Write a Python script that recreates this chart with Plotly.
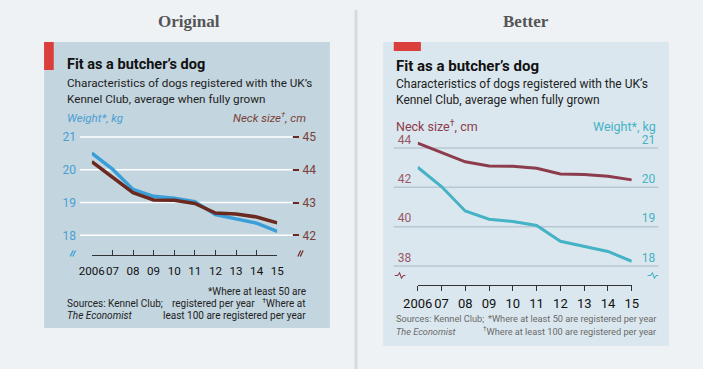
import plotly.graph_objects as go

# ---------------- data ----------------
years = [2006, 2007, 2008, 2009, 2010, 2011, 2012, 2013, 2014, 2015]
year_labels = ["2006", "07", "08", "09", "10", "11", "12", "13", "14", "15"]
weight_kg = [20.51, 20.02, 19.40, 19.19, 19.13, 19.03, 18.63, 18.50, 18.37, 18.12]
neck_cm = [44.25, 43.78, 43.30, 43.08, 43.07, 42.97, 42.68, 42.65, 42.56, 42.38]

orig_weight_ticks = [18, 19, 20, 21]
orig_neck_ticks = [42, 43, 44, 45]
better_neck_ticks = [38, 40, 42, 44]
better_weight_ticks = [18, 19, 20, 21]

W, H = 703, 369
FONT = "Roboto, sans-serif"
SERIF = "Liberation Serif, DejaVu Serif, serif"


def px(x):
    return x / W


def py(y):
    return 1 - y / H


def path(points):
    s = ""
    for i, (x, y) in enumerate(points):
        s += ("M" if i == 0 else "L") + f"{px(x):.5f},{py(y):.5f} "
    return s.strip()


PAGE_BG = "#eef2f5"
ORIG_BG = "#c3d5df"
BETTER_BG = "#dbe7ee"
RED = "#da3f3c"
O_BLUE = "#3a9fd8"
O_BROWN = "#6b2a20"
B_MAROON = "#8c3c4c"
B_TEAL = "#45b2c5"

fig = go.Figure()

o_px_per = 32.77
o_y18 = 235.3
o_top, o_bot = 122, 255.3


def o_w(pxv):
    return 18 + (o_y18 - pxv) / o_px_per


o_wrange = [o_w(o_bot), o_w(o_top)]
o_nrange = [v + 24 for v in o_wrange]

fig.add_trace(go.Scatter(x=years, y=weight_kg, mode="lines", xaxis="x", yaxis="y",
                         line=dict(color=O_BLUE, width=3.5), hoverinfo="skip", showlegend=False))
fig.add_trace(go.Scatter(x=years, y=neck_cm, mode="lines", xaxis="x", yaxis="y2",
                         line=dict(color=O_BROWN, width=3.5), hoverinfo="skip", showlegend=False))

b_px_per = 39.33
b_y18 = 266.0
b_top, b_bot = 122, 284.7


def b_w(pxv):
    return 18 + (b_y18 - pxv) / b_px_per


b_wrange = [b_w(b_bot), b_w(b_top)]
b_nrange = [38 + 2 * (v - 18) for v in b_wrange]

fig.add_trace(go.Scatter(x=years, y=neck_cm, mode="lines", xaxis="x2", yaxis="y3",
                         line=dict(color=B_MAROON, width=3), hoverinfo="skip", showlegend=False))
fig.add_trace(go.Scatter(x=years, y=weight_kg, mode="lines", xaxis="x2", yaxis="y4",
                         line=dict(color=B_TEAL, width=3), hoverinfo="skip", showlegend=False))

fig.update_layout(
    width=W, height=H,
    margin=dict(l=0, r=0, t=0, b=0),
    paper_bgcolor=PAGE_BG, plot_bgcolor="rgba(0,0,0,0)",
    font=dict(family=FONT, color="#222"),
    showlegend=False,
    xaxis=dict(domain=[px(79.3), px(270.7)], range=[2006, 2015], anchor="y",
               showgrid=False, zeroline=False, showline=True, linecolor="#333", linewidth=1,
               ticks="inside", ticklen=5, tickcolor="#333", tickwidth=1, tickangle=0,
               tickvals=years, ticktext=year_labels, ticklabelstandoff=5,
               tickfont=dict(size=11.6, color="#111", family=FONT)),
    yaxis=dict(domain=[py(o_bot), py(o_top)], range=o_wrange, anchor="free", position=px(67),
               side="left", showgrid=False, zeroline=False, showline=False, ticks="",
               tickvals=orig_weight_ticks, ticklabelstandoff=4,
               tickfont=dict(size=12, color="#4a9fd2", family=FONT)),
    yaxis2=dict(range=o_nrange, overlaying="y", anchor="free", position=px(286), side="right",
                showgrid=False, zeroline=False, showline=False, ticks="outside", ticklen=6,
                tickcolor=O_BROWN, tickwidth=1.5, tickvals=orig_neck_ticks, ticklabelstandoff=1,
                tickfont=dict(size=12, color="#7a3f36", family=FONT)),
    xaxis2=dict(domain=[px(415.7), px(636.7)], range=[2006, 2015], anchor="y3",
                showgrid=False, zeroline=False, showline=True, linecolor="#333", linewidth=1,
                ticks="outside", ticklen=5, tickcolor="#333", tickwidth=1, tickangle=0,
                tickvals=years, ticktext=year_labels, ticklabelstandoff=2,
                tickfont=dict(size=13, color="#111", family=FONT)),
    yaxis3=dict(domain=[py(b_bot), py(b_top)], range=b_nrange, anchor="free", position=px(391),
                side="left", showgrid=False, zeroline=False, showline=False, ticks="",
                tickvals=better_neck_ticks, ticklabelposition="inside top",
                tickfont=dict(size=12, color="#9a5866", family=FONT)),
    yaxis4=dict(range=b_wrange, overlaying="y3", anchor="free", position=px(664), side="right",
                showgrid=False, zeroline=False, showline=False, ticks="",
                tickvals=better_weight_ticks, ticklabelposition="inside top",
                tickfont=dict(size=12, color=B_TEAL, family=FONT)),
)

shapes = []
shapes.append(dict(type="rect", xref="paper", yref="paper", x0=px(30), x1=px(325), y0=py(328), y1=py(42),
                   fillcolor=ORIG_BG, line=dict(width=0), layer="below"))
shapes.append(dict(type="rect", xref="paper", yref="paper", x0=px(380), x1=px(675), y0=py(346), y1=py(42),
                   fillcolor=BETTER_BG, line=dict(width=0), layer="below"))
shapes.append(dict(type="line", xref="paper", yref="paper", x0=px(352), x1=px(352), y0=py(10), y1=py(369),
                   line=dict(color="#d3dbe1", width=3), layer="below"))
shapes.append(dict(type="rect", xref="paper", yref="paper", x0=px(30), x1=px(40), y0=py(70), y1=py(42),
                   fillcolor=RED, line=dict(width=0), layer="below"))
shapes.append(dict(type="rect", xref="paper", yref="paper", x0=px(391), x1=px(419), y0=py(51), y1=py(42),
                   fillcolor=RED, line=dict(width=0), layer="below"))
for v in orig_weight_ticks:
    shapes.append(dict(type="line", xref="paper", yref="y", x0=px(67), x1=px(286), y0=v, y1=v,
                       line=dict(color="#ffffff", width=1.5), layer="below"))
for v in better_neck_ticks:
    shapes.append(dict(type="line", xref="paper", yref="y3", x0=px(391), x1=px(664), y0=v, y1=v,
                       line=dict(color="#b7c7d1", width=1.5), layer="below"))
for x0, col in [(57, O_BLUE), (292, O_BROWN)]:
    shapes.append(dict(type="path", xref="paper", yref="paper",
                       path=path([(x0, 256.5), (x0 + 3, 250.5)]), line=dict(color=col, width=1.2)))
    shapes.append(dict(type="path", xref="paper", yref="paper",
                       path=path([(x0 + 2.5, 256.5), (x0 + 5.5, 250.5)]), line=dict(color=col, width=1.2)))
for x0, col in [(392, B_MAROON), (653, B_TEAL)]:
    shapes.append(dict(type="path", xref="paper", yref="paper",
                       path=path([(x0, 275.5), (x0 + 3, 275.5), (x0 + 5, 272.8), (x0 + 7, 278.2),
                                  (x0 + 9, 275.5), (x0 + 11, 275.5)]),
                       line=dict(color=col, width=1.1)))
fig.update_layout(shapes=shapes)

ann = []


def text(x, y, s, size, color="#222", xanchor="left", family=FONT):
    ann.append(dict(xref="paper", yref="paper", x=px(x), y=py(y), text=s, showarrow=False,
                    xanchor=xanchor, yanchor="middle", font=dict(size=size, color=color, family=family)))


text(180, 22, "<b>Original</b>", 17, "#555", "center", SERIF)
text(527, 22, "<b>Better</b>", 17, "#555", "center", SERIF)

text(52, 65, "<b>Fit as a butcher’s dog</b>", 14.5, "#111")
text(52, 83, "Characteristics of dogs registered with the UK’s", 11.7, "#222")
text(52, 99, "Kennel Club, average when fully grown", 11.7, "#222")
text(52, 118, "<i>Weight*, kg</i>", 11.5, "#4a9fd2")
text(302, 118, "<i>Neck size<sup>†</sup>, cm</i>", 11.5, "#7a3f36", "right")
text(302, 291, "*Where at least 50 are", 10, "#222", "right")
text(302, 303, "registered per year   <sup>†</sup>Where at", 10, "#222", "right")
text(302, 315, "least 100 are registered per year", 10, "#222", "right")
text(52, 303, "Sources: Kennel Club;", 10, "#222")
text(52, 315, "<i>The Economist</i>", 10, "#222")

text(391, 66, "<b>Fit as a butcher’s dog</b>", 15, "#111")
text(391, 84, "Characteristics of dogs registered with the UK’s", 12, "#222")
text(391, 100, "Kennel Club, average when fully grown", 12, "#222")
text(391, 126, "Neck size<sup>†</sup>, cm", 12.5, B_MAROON)
text(664, 126, "Weight*, kg", 12.5, B_TEAL, "right")
text(391, 318, "Sources: Kennel Club;", 9.2, "#6a6a6a")
text(391, 331, "<i>The Economist</i>", 9.2, "#6a6a6a")
text(664, 318, "*Where at least 50 are registered per year", 9.2, "#6a6a6a", "right")
text(664, 331, "<sup>†</sup>Where at least 100 are registered per year", 9.2, "#6a6a6a", "right")

fig.update_layout(annotations=ann)

# remove the browser's default 8px body margin so the figure sits at the page origin
fig.write_html("out.html", config={"displayModeBar": False},
               post_script="document.body.style.margin='0px';")
